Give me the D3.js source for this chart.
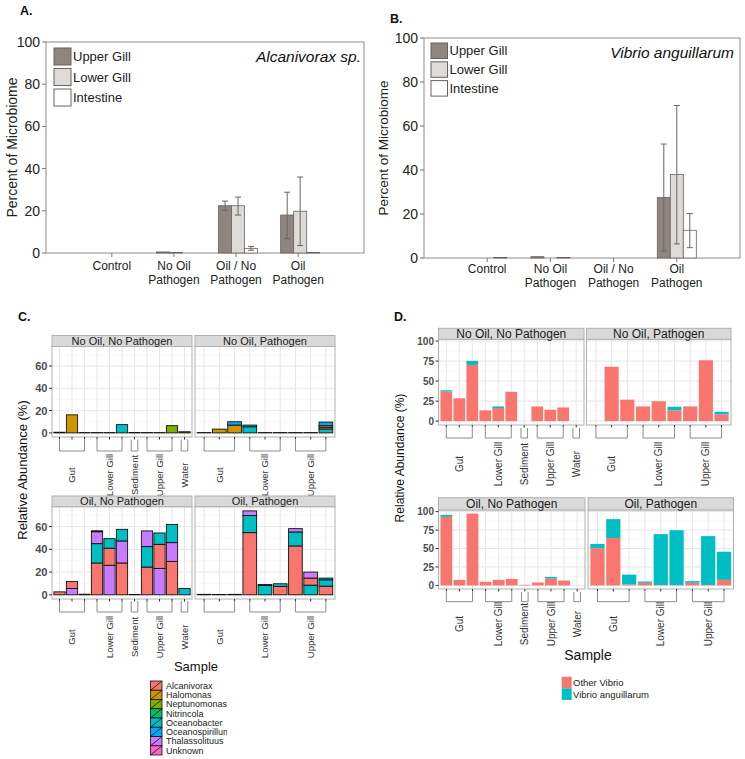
<!DOCTYPE html>
<html><head><meta charset="utf-8">
<script src="https://cdn.jsdelivr.net/npm/d3@7"></script>
<style>body{margin:0;background:#fff} svg{display:block;font-family:"Liberation Sans",Arial,Helvetica,sans-serif}</style>
</head><body><svg id="chart" width="745" height="759"></svg>
<script>
// ---------------- DATA ----------------
// Panels A & B
const treatments = ["Control", "No Oil\nPathogen", "Oil / No\nPathogen", "Oil\nPathogen"];
const tissues = ["Upper Gill", "Lower Gill", "Intestine"];
const abTicks = [0, 20, 40, 60, 80, 100];
// mean per treatment: [upper gill, lower gill, intestine]
const alcMean = [[0, 0, 0], [0.5, 0.3, 0], [22.4, 22.4, 2.2], [18.0, 19.8, 0.3]];
const alcErr = [[null, null, null], [null, null, null], [[20.2, 24.6], [18.0, 26.5], [1.3, 3.1]], [[6.8, 28.8], [3.5, 36.0], null]];
const vibMean = [[0, 0, 0.2], [0.6, 0, 0.2], [0, 0, 0], [27.5, 38.0, 12.6]];
const vibErr = [[null, null, null], [null, null, null], [null, null, null], [[3.2, 51.8], [6.4, 69.3], [4.7, 20.2]]];

// Panel C (taxa)
const taxa = ["Alcanivorax", "Halomonas", "Neptunomonas", "Nitrincola", "Oceanobacter", "Oceanospirillum", "Thalassolituus", "Unknown"];
const taxaColors = ["#F8766D", "#CD9600", "#7CAE00", "#00BE67", "#00BFC4", "#00A9FF", "#C77CFF", "#FF61CC"];
const groupsAll = [["Gut", 3], ["Lower Gill", 3], ["Sediment", 1], ["Upper Gill", 3], ["Water", 1]];
const groupsTissue = [["Gut", 3], ["Lower Gill", 3], ["Upper Gill", 3]];
const cTicks = [0, 20, 40, 60];
const cMinor = [10, 30, 50, 70];
// each bar: stacked segments bottom -> top
const cNoOilNoPath = [
  [["Alcanivorax", 0.6]], [["Halomonas", 16.2]], [["Alcanivorax", 0.3]],
  [["Alcanivorax", 0.3]], [["Alcanivorax", 0.3]], [["Oceanobacter", 7.4]],
  [["Alcanivorax", 0.4]],
  [["Alcanivorax", 0.3]], [["Alcanivorax", 0.3]], [["Neptunomonas", 6.5]],
  [["Neptunomonas", 1.0]]
];
const cNoOilPath = [
  [["Alcanivorax", 0.3]], [["Halomonas", 3.4]], [["Halomonas", 7.0], ["Oceanospirillum", 3.0]],
  [["Oceanobacter", 5.5], ["Oceanospirillum", 1.5]], [["Alcanivorax", 0.3]], [["Alcanivorax", 0.3]],
  [["Alcanivorax", 0.3]], [["Alcanivorax", 0.3]],
  [["Oceanobacter", 3.5], ["Alcanivorax", 1.5], ["Halomonas", 1.5], ["Oceanospirillum", 3.2]]
];
const cOilNoPath = [
  [["Alcanivorax", 2.6]], [["Thalassolituus", 5.5], ["Alcanivorax", 6.3]], [["Alcanivorax", 0.5]],
  [["Alcanivorax", 28.0], ["Oceanobacter", 17.0], ["Thalassolituus", 10.5], ["Neptunomonas", 0.8]],
  [["Thalassolituus", 26.0], ["Alcanivorax", 15.0], ["Oceanobacter", 8.4]],
  [["Alcanivorax", 28.0], ["Thalassolituus", 19.4], ["Oceanobacter", 10.2]],
  [["Alcanivorax", 0.3]],
  [["Alcanivorax", 24.4], ["Oceanobacter", 18.0], ["Thalassolituus", 13.8]],
  [["Thalassolituus", 23.2], ["Alcanivorax", 21.2], ["Oceanobacter", 10.0]],
  [["Alcanivorax", 29.4], ["Thalassolituus", 16.5], ["Oceanobacter", 15.9]],
  [["Oceanobacter", 5.6]]
];
const cOilPath = [
  [["Alcanivorax", 0.4]], [["Alcanivorax", 0.3]], [["Alcanivorax", 0.4]],
  [["Alcanivorax", 54.7], ["Oceanobacter", 15.0], ["Thalassolituus", 4.1]],
  [["Oceanobacter", 8.2], ["Alcanivorax", 0.9]],
  [["Alcanivorax", 7.4], ["Oceanobacter", 2.3]],
  [["Alcanivorax", 43.0], ["Oceanobacter", 12.3], ["Thalassolituus", 2.9]],
  [["Oceanobacter", 8.5], ["Alcanivorax", 6.2], ["Thalassolituus", 5.3]],
  [["Alcanivorax", 7.6], ["Oceanobacter", 5.6], ["Oceanospirillum", 1.5]]
];

// Panel D (Vibrio)
const vibrioKeys = ["Other Vibrio", "Vibrio anguillarum"];
const vibrioColors = ["#F8766D", "#00BFC4"];
const dTicks = [0, 25, 50, 75, 100];
const dMinor = [12.5, 37.5, 62.5, 87.5];
const dNoOilNoPathOther = [37.0, 28.5, 70.2, 13.4, 16.3, 36.6, 0, 18.3, 14.2, 17.0, 0];
const dNoOilNoPathVib   = [1.5, 0, 5.0, 0, 2.0, 0, 0, 0, 0, 0, 0];
const dNoOilPathOther   = [0, 67.9, 26.8, 18.3, 24.8, 13.4, 18.3, 76.0, 8.5];
const dNoOilPathVib     = [0, 0, 0, 0, 0, 4.5, 0, 0, 3.0];
const dOilNoPathOther   = [92.9, 7.5, 97.3, 4.9, 7.5, 8.8, 0.8, 4.0, 9.3, 6.6, 0];
const dOilNoPathVib     = [2.7, 0, 0, 0, 0, 0, 0, 0, 2.2, 0, 0];
const dOilPathOther     = [50.4, 64.2, 1.3, 3.5, 0.5, 0.5, 3.5, 0.5, 7.5];
const dOilPathVib       = [5.8, 25.6, 13.3, 1.8, 69.0, 74.3, 2.3, 66.3, 38.1];

// ---------------- DRAW ----------------
const svg = d3.select("#chart");

function letter(t, x, y) {
  svg.append("text").attr("x", x).attr("y", y).attr("font-size", 12.5).attr("font-weight", "bold").attr("fill", "#111").text(t);
}
letter("A.", 20, 15); letter("B.", 390, 23); letter("C.", 18, 321); letter("D.", 394, 321);

const tissueFill = d3.scaleOrdinal().domain(tissues).range(["#8E8480", "#DEDAD7", "#FFFFFF"]);

function barPanel(cfg) {
  const g = svg.append("g");
  const x = d3.scalePoint().domain(treatments).range([cfg.x0, cfg.x1]).padding(cfg.pad);
  const y = d3.scaleLinear().domain([0, 100]).range([cfg.y1, cfg.y0]);
  const inner = d3.scaleBand().domain(tissues).range([-19.5, 19.5]);
  g.append("rect").attr("x", cfg.x0).attr("y", cfg.y0).attr("width", cfg.x1 - cfg.x0).attr("height", cfg.y1 - cfg.y0)
    .attr("fill", "none").attr("stroke", "#8c8c8c").attr("stroke-width", 1);
  abTicks.forEach(v => {
    g.append("line").attr("x1", cfg.x0 - 4).attr("x2", cfg.x0).attr("y1", y(v)).attr("y2", y(v)).attr("stroke", "#777");
    g.append("text").attr("x", cfg.x0 - 6).attr("y", y(v)).attr("dy", "0.36em").attr("text-anchor", "end")
      .attr("font-size", 14).attr("fill", "#222").text(v);
  });
  treatments.forEach((t, i) => {
    g.append("line").attr("x1", x(t)).attr("x2", x(t)).attr("y1", cfg.y1).attr("y2", cfg.y1 + 4).attr("stroke", "#777");
    const lines = t.split("\n");
    lines.forEach((l, k) => g.append("text").attr("text-anchor", "middle").attr("font-size", 12).attr("fill", "#222")
      .attr("x", x(t)).attr("y", cfg.y1 + cfg.lab1 + k * 14).text(l));
    tissues.forEach((s, j) => {
      const v = cfg.means[i][j];
      const bx = x(t) + cfg.off + inner(s);
      if (v > 0) {
        g.append("rect").attr("x", bx).attr("y", y(v)).attr("width", inner.bandwidth()).attr("height", y(0) - y(v))
          .attr("fill", tissueFill(s)).attr("stroke", "#6a625e").attr("stroke-width", 0.8);
      }
      const e = cfg.errs[i][j];
      if (e) {
        const cx = bx + inner.bandwidth() / 2;
        g.append("line").attr("x1", cx).attr("x2", cx).attr("y1", y(e[0])).attr("y2", y(e[1])).attr("stroke", "#666").attr("stroke-width", 1);
        e.forEach(ev => g.append("line").attr("x1", cx - 3).attr("x2", cx + 3).attr("y1", y(ev)).attr("y2", y(ev)).attr("stroke", "#666").attr("stroke-width", 1));
      }
    });
  });
  // legend
  tissues.forEach((s, j) => {
    const ly = cfg.legY + j * cfg.legStep;
    g.append("rect").attr("x", cfg.legX).attr("y", ly).attr("width", cfg.legW).attr("height", cfg.legH)
      .attr("fill", tissueFill(s)).attr("stroke", "#6a625e").attr("stroke-width", 1);
    g.append("text").attr("x", cfg.legX + cfg.legW + 2).attr("y", ly + cfg.legH / 2).attr("dy", "0.36em")
      .attr("font-size", 13).attr("fill", "#222").text(s);
  });
  g.append("text").attr("x", cfg.titleX).attr("y", cfg.titleY).attr("text-anchor", "end").attr("font-style", "italic")
    .attr("font-size", 15.5).attr("fill", "#111").text(cfg.title);
  g.append("text").attr("transform", `translate(${cfg.ytX},${(cfg.y0 + cfg.y1) / 2}) rotate(-90)`).attr("text-anchor", "middle")
    .attr("dy", "0.36em").attr("font-size", cfg.ytSize).attr("fill", "#222").text("Percent of Microbiome");
}

barPanel({x0: 46, x1: 364, y0: 42, y1: 253, pad: 1.06, off: 2, means: alcMean, errs: alcErr, lab1: 17,
  legX: 54, legY: 48, legStep: 20.5, legW: 17, legH: 17, title: "Alcanivorax sp.", titleX: 361, titleY: 62, ytX: 12, ytSize: 14});
barPanel({x0: 424, x1: 740, y0: 38, y1: 258, pad: 1.0, off: 0, means: vibMean, errs: vibErr, lab1: 15,
  legX: 431, legY: 43, legStep: 18.8, legW: 16.5, legH: 15.5, title: "Vibrio anguillarum", titleX: 734, titleY: 58, ytX: 383, ytSize: 13.5});

// ------- facets -------
const taxaColor = d3.scaleOrdinal().domain(taxa).range(taxaColors);
const vibColor = d3.scaleOrdinal().domain(vibrioKeys).range(vibrioColors);

function facet(f, c) {
  const g = svg.append("g");
  const n = f.bars.length;
  const x = d3.scaleBand().domain(d3.range(n)).range([f.x0, f.x1]).paddingInner(0.1).paddingOuter(0.15);
  const bw = x.bandwidth();
  const y = d3.scaleLinear().domain(c.yDomain).range([f.py1, f.sy1]);
  g.append("rect").attr("x", f.x0).attr("y", f.sy1).attr("width", f.x1 - f.x0).attr("height", f.py1 - f.sy1).attr("fill", "#fff");
  c.minor.forEach(v => g.append("line").attr("x1", f.x0).attr("x2", f.x1).attr("y1", y(v)).attr("y2", y(v)).attr("stroke", "#F3F3F3").attr("stroke-width", 0.6));
  c.ticks.forEach(v => g.append("line").attr("x1", f.x0).attr("x2", f.x1).attr("y1", y(v)).attr("y2", y(v)).attr("stroke", "#E6E6E6").attr("stroke-width", 1));
  d3.range(n).forEach(i => g.append("line").attr("x1", x(i) + bw / 2).attr("x2", x(i) + bw / 2).attr("y1", f.sy1).attr("y2", f.py1).attr("stroke", "#E6E6E6").attr("stroke-width", 1));
  f.bars.forEach((segs, i) => {
    let cum = 0;
    segs.forEach(([name, v]) => {
      if (v <= 0) return;
      g.append("rect").attr("x", x(i)).attr("y", y(cum + v)).attr("width", bw).attr("height", y(cum) - y(cum + v))
        .attr("fill", c.color(name)).attr("stroke", c.outline).attr("stroke-width", c.outline === "none" ? 0 : 0.9);
      cum += v;
    });
  });
  g.append("rect").attr("x", f.x0).attr("y", f.sy1).attr("width", f.x1 - f.x0).attr("height", f.py1 - f.sy1)
    .attr("fill", "none").attr("stroke", "#B0B0B0").attr("stroke-width", 1);
  // strip
  g.append("rect").attr("x", f.x0).attr("y", f.sy0).attr("width", f.x1 - f.x0).attr("height", f.sy1 - f.sy0)
    .attr("fill", "#D9D9D9").attr("stroke", "#B0B0B0").attr("stroke-width", 1);
  g.append("text").attr("x", (f.x0 + f.x1) / 2).attr("y", (f.sy0 + f.sy1) / 2).attr("dy", "0.36em").attr("text-anchor", "middle")
    .attr("font-size", c.stripSize).attr("fill", "#1A1A1A").text(f.title);
  if (f.yaxis) {
    c.ticks.forEach(v => {
      g.append("line").attr("x1", f.x0 - 3).attr("x2", f.x0).attr("y1", y(v)).attr("y2", y(v)).attr("stroke", "#333");
      g.append("text").attr("x", f.x0 - 4.5).attr("y", y(v)).attr("dy", "0.36em").attr("text-anchor", "end")
        .attr("font-size", c.tickSize).attr("font-weight", "bold").attr("fill", "#4D4D4D").text(v);
    });
  }
  d3.range(n).forEach(i => g.append("line").attr("x1", x(i) + bw / 2).attr("x2", x(i) + bw / 2).attr("y1", f.py1).attr("y2", f.py1 + 2.5).attr("stroke", "#333"));
  let start = 0;
  f.groups.forEach(([name, cnt]) => {
    let a = x(start) + bw / 2, b = x(start + cnt - 1) + bw / 2;
    if (cnt === 1) { a -= 3.3; b += 3.3; }
    g.append("path").attr("d", `M${a},${f.bTop}V${f.bBot}H${b}V${f.bTop}`).attr("fill", "none").attr("stroke", "#8C8C8C").attr("stroke-width", 1);
    g.append("text").attr("transform", `translate(${(a + b) / 2},${f.labelY}) rotate(-90)`).attr("text-anchor", "middle")
      .attr("dy", "0.36em").attr("font-size", c.labSize).attr("fill", "#333").text(name);
    start += cnt;
  });
}

const cCommon = {yDomain: [-3.69, 77.5], ticks: cTicks, minor: cMinor, color: taxaColor, outline: "#111", stripSize: 11, tickSize: 11, labSize: 9.5};
facet({title: "No Oil, No Pathogen", groups: groupsAll, bars: cNoOilNoPath, x0: 52, x1: 192, sy0: 335.5, sy1: 346.5, py1: 437, yaxis: true, bTop: 439.5, bBot: 451, labelY: 475}, cCommon);
facet({title: "No Oil, Pathogen", groups: groupsTissue, bars: cNoOilPath, x0: 195, x1: 335, sy0: 335.5, sy1: 346.5, py1: 437, yaxis: false, bTop: 439.5, bBot: 451, labelY: 475}, cCommon);
facet({title: "Oil, No Pathogen", groups: groupsAll, bars: cOilNoPath, x0: 52, x1: 192, sy0: 496, sy1: 506.7, py1: 599, yaxis: true, bTop: 601, bBot: 612, labelY: 637}, cCommon);
facet({title: "Oil, Pathogen", groups: groupsTissue, bars: cOilPath, x0: 195, x1: 335, sy0: 496, sy1: 506.7, py1: 599, yaxis: false, bTop: 601, bBot: 612, labelY: 637}, cCommon);

function vibBars(other, vib) { return other.map((o, i) => [["Other Vibrio", o], ["Vibrio anguillarum", vib[i]]]); }
const dCommon = {yDomain: [-4.87, 102.2], ticks: dTicks, minor: dMinor, color: vibColor, outline: "none", stripSize: 12, tickSize: 10, labSize: 10};
facet({title: "No Oil, No Pathogen", groups: groupsAll, bars: vibBars(dNoOilNoPathOther, dNoOilNoPathVib), x0: 438.5, x1: 584, sy0: 328.3, sy1: 339.3, py1: 425, yaxis: true, bTop: 428, bBot: 438, labelY: 464}, dCommon);
facet({title: "No Oil, Pathogen", groups: groupsTissue, bars: vibBars(dNoOilPathOther, dNoOilPathVib), x0: 586.5, x1: 731, sy0: 328.3, sy1: 339.3, py1: 425, yaxis: false, bTop: 428, bBot: 438, labelY: 464}, dCommon);
facet({title: "Oil, No Pathogen", groups: groupsAll, bars: vibBars(dOilNoPathOther, dOilNoPathVib), x0: 438.5, x1: 585, sy0: 497.7, sy1: 510, py1: 589, yaxis: true, bTop: 592, bBot: 601.7, labelY: 624}, dCommon);
facet({title: "Oil, Pathogen", groups: groupsTissue, bars: vibBars(dOilPathOther, dOilPathVib), x0: 588, x1: 733.5, sy0: 497.7, sy1: 510, py1: 589, yaxis: false, bTop: 592, bBot: 601.7, labelY: 624}, dCommon);

// axis titles
function vtitle(t, x, y, s) {
  svg.append("text").attr("transform", `translate(${x},${y}) rotate(-90)`).attr("text-anchor", "middle").attr("dy", "0.36em")
    .attr("font-size", s).attr("fill", "#111").text(t);
}
vtitle("Relative Abundance (%)", 22.5, 470, 13);
vtitle("Relative Abundance (%)", 400, 458, 12);
svg.append("text").attr("x", 196).attr("y", 671).attr("text-anchor", "middle").attr("font-size", 13).attr("fill", "#111").text("Sample");
svg.append("text").attr("x", 588).attr("y", 660).attr("text-anchor", "middle").attr("font-size", 14).attr("fill", "#111").text("Sample");

// legend C
const clip = svg.append("defs").append("clipPath").attr("id", "legclip");
clip.append("rect").attr("x", 140).attr("y", 670).attr("width", 87).attr("height", 90);
const legC = svg.append("g").attr("clip-path", "url(#legclip)");
taxa.forEach((t, i) => {
  const ly = 681 + i * 9.25;
  legC.append("rect").attr("x", 150.5).attr("y", ly).attr("width", 11.5).attr("height", 9.25)
    .attr("fill", taxaColor(t)).attr("stroke", "#111").attr("stroke-width", 0.8);
  legC.append("line").attr("x1", 150.5).attr("y1", ly + 9.25).attr("x2", 162).attr("y2", ly).attr("stroke", "#111").attr("stroke-width", 0.8);
  legC.append("text").attr("x", 166).attr("y", ly + 4.6).attr("dy", "0.36em").attr("font-size", 9).attr("fill", "#222").text(t);
});
// legend D
vibrioKeys.forEach((k, i) => {
  const ly = 676.7 + i * 11.6;
  svg.append("rect").attr("x", 561.7).attr("y", ly).attr("width", 10).attr("height", 11.6).attr("fill", vibColor(k));
  svg.append("text").attr("x", 573).attr("y", ly + 5.8).attr("dy", "0.36em").attr("font-size", 9.5).attr("fill", "#222").text(k);
});
</script></body></html>
